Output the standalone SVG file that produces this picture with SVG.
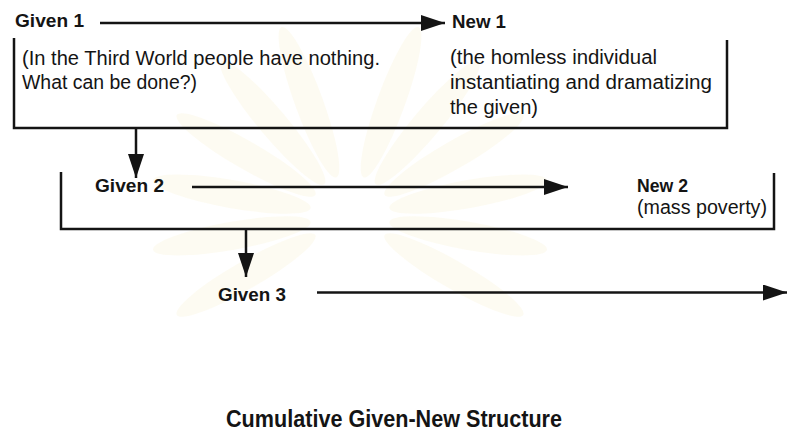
<svg xmlns="http://www.w3.org/2000/svg" width="787" height="435" viewBox="0 0 787 435">
  <style>
    text { font-family: "Liberation Sans", Arial, sans-serif; fill: #141414; }
    .lbl { font-size: 18px; font-weight: bold; }
    .note { font-size: 20px; }
    .title { font-size: 23px; font-weight: bold; }
    .frame { fill: none; stroke: #141414; stroke-width: 2.5; }
    .arrow { fill: none; stroke: #141414; stroke-width: 2.5; marker-end: url(#head); }
    .ray { fill: #f6ecc6; opacity: 0.22; }
  </style>
  <defs>
    <marker id="head" markerUnits="userSpaceOnUse" markerWidth="26" markerHeight="18" refX="24" refY="8" orient="auto">
      <path d="M0,0 L24,8 L0,16 Z" fill="#141414"/>
    </marker>
  </defs>

  <rect width="787" height="435" fill="#ffffff"/>

  <!-- faint background emblem -->
  <g id="emblem" transform="translate(350,215)">
    <ellipse class="ray" cx="0" cy="-120" rx="14" ry="80" transform="rotate(-60)"/>
    <ellipse class="ray" cx="0" cy="-120" rx="14" ry="80" transform="rotate(-40)"/>
    <ellipse class="ray" cx="0" cy="-120" rx="14" ry="80" transform="rotate(-20)"/>
    <ellipse class="ray" cx="0" cy="-120" rx="14" ry="80" transform="rotate(20)"/>
    <ellipse class="ray" cx="0" cy="-120" rx="14" ry="80" transform="rotate(40)"/>
    <ellipse class="ray" cx="0" cy="-120" rx="14" ry="80" transform="rotate(60)"/>
    <ellipse class="ray" cx="0" cy="-120" rx="14" ry="80" transform="rotate(-80)"/>
    <ellipse class="ray" cx="0" cy="-120" rx="14" ry="80" transform="rotate(80)"/>
    <ellipse class="ray" cx="0" cy="-120" rx="14" ry="80" transform="rotate(-100)"/>
    <ellipse class="ray" cx="0" cy="-120" rx="14" ry="80" transform="rotate(100)"/>
    <ellipse class="ray" cx="0" cy="-120" rx="14" ry="80" transform="rotate(-120)"/>
    <ellipse class="ray" cx="0" cy="-120" rx="14" ry="80" transform="rotate(120)"/>
  </g>

  <!-- frames -->
  <g id="frame-1">
    <path class="frame" d="M14,38 V128 H727 V40"/>
  </g>
  <g id="frame-2">
    <path class="frame" d="M61,172 V229 H774 V173"/>
  </g>

  <!-- nodes -->
  <g id="given-1">
    <text class="lbl" x="15" y="27" textLength="69" lengthAdjust="spacingAndGlyphs">Given 1</text>
    <text class="note" x="22" y="64.5" textLength="358" lengthAdjust="spacingAndGlyphs">(In the Third World people have nothing.</text>
    <text class="note" x="22" y="89" textLength="175" lengthAdjust="spacingAndGlyphs">What can be done?)</text>
  </g>
  <g id="new-1">
    <text class="lbl" x="452" y="28" textLength="54" lengthAdjust="spacingAndGlyphs">New 1</text>
    <text class="note" x="450" y="64" textLength="207" lengthAdjust="spacingAndGlyphs">(the homless individual</text>
    <text class="note" x="450" y="89" textLength="262" lengthAdjust="spacingAndGlyphs">instantiating and dramatizing</text>
    <text class="note" x="450" y="113.5" textLength="88" lengthAdjust="spacingAndGlyphs">the given)</text>
  </g>
  <g id="given-2">
    <text class="lbl" x="95" y="191.5" textLength="69" lengthAdjust="spacingAndGlyphs">Given 2</text>
  </g>
  <g id="new-2">
    <text class="lbl" x="637" y="192" textLength="51" lengthAdjust="spacingAndGlyphs">New 2</text>
    <text class="note" x="637" y="214" font-size="19" textLength="130" lengthAdjust="spacingAndGlyphs">(mass poverty)</text>
  </g>
  <g id="given-3">
    <text class="lbl" x="218" y="300.5" textLength="68" lengthAdjust="spacingAndGlyphs">Given 3</text>
  </g>

  <!-- connectors -->
  <g id="connectors">
    <line class="arrow" x1="100" y1="23" x2="445" y2="23"/>
    <line class="arrow" x1="136" y1="128" x2="136" y2="178"/>
    <line class="arrow" x1="192" y1="187" x2="568" y2="187"/>
    <line class="arrow" x1="246" y1="229" x2="246" y2="277"/>
    <line class="arrow" x1="317" y1="292.5" x2="787" y2="292.5"/>
  </g>

  <g id="caption">
    <text class="title" x="226" y="427" textLength="336" lengthAdjust="spacingAndGlyphs">Cumulative Given-New Structure</text>
  </g>
</svg>
